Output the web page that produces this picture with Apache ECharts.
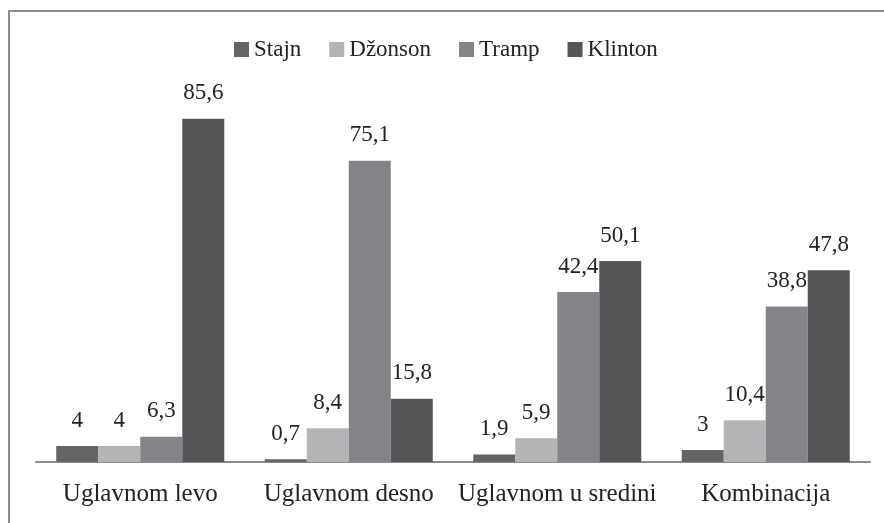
<!DOCTYPE html>
<html>
<head>
<meta charset="utf-8">
<script src="https://cdn.jsdelivr.net/npm/echarts@6/dist/echarts.min.js"></script>
<style>
  html, body { margin: 0; padding: 0; background: #fff; }
  #chart { width: 884px; height: 523px; }
</style>
</head>
<body>
<div id="chart"></div>
<script>
const categories = ['Uglavnom levo', 'Uglavnom desno', 'Uglavnom u sredini', 'Kombinacija'];
const stajn = [4, 0.7, 1.9, 3];
const dzonson = [4, 8.4, 5.9, 10.4];
const tramp = [6.3, 75.1, 42.4, 38.8];
const klinton = [85.6, 15.8, 50.1, 47.8];

const FONT = '"Liberation Serif", "DejaVu Serif", serif';

const label = {
    show: true,
    position: 'top',
    distance: 14,
    color: '#222',
    fontFamily: FONT,
    fontSize: 23,
    formatter: p => String(p.value).replace('.', ',')
};

const mk = (name, data, color) => ({
    name,
    type: 'bar',
    data,
    barGap: 0,
    barCategoryGap: '19.4%',
    itemStyle: { color },
    label
});

const chart = echarts.init(document.getElementById('chart'));
chart.setOption({
    animation: false,
    textStyle: { fontFamily: FONT },
    graphic: [{
        type: 'rect',
        shape: { x: 9, y: 11, width: 1000, height: 600 },
        style: { fill: 'none', stroke: '#8c8c8c', lineWidth: 2 }
    }],
    legend: {
        top: 33,
        left: 229,
        itemWidth: 15,
        itemHeight: 15,
        itemGap: 28,
        icon: 'rect',
        textStyle: { fontFamily: FONT, fontSize: 23, color: '#222' },
        data: ['Stajn', 'Džonson', 'Tramp', 'Klinton']
    },
    grid: { left: 36, right: 14, top: 61, bottom: 61 },
    xAxis: {
        type: 'category',
        data: categories,
        axisLine: { lineStyle: { color: '#8c8c8c', width: 2 } },
        axisTick: { show: false },
        axisLabel: { interval: 0, fontFamily: FONT, fontSize: 25, color: '#222', margin: 20 }
    },
    yAxis: {
        type: 'value',
        min: 0,
        max: 100,
        show: false,
        splitLine: { show: false }
    },
    series: [
        mk('Stajn', stajn, '#646464'),
        mk('Džonson', dzonson, '#b3b4b6'),
        mk('Tramp', tramp, '#838487'),
        mk('Klinton', klinton, '#565658')
    ]
});
</script>
</body>
</html>
